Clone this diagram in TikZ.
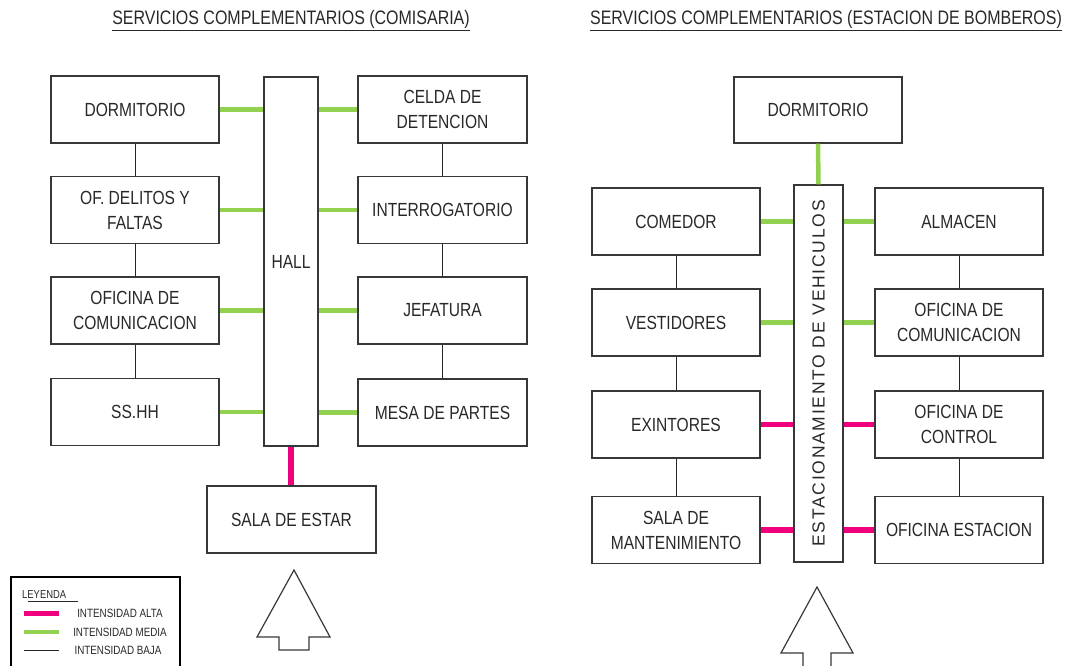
\documentclass[tikz,border=0pt]{standalone}
\usepackage{fontspec}
\setmainfont{Liberation Sans}[FakeStretch=0.82]
\newfontfamily\titlef{Liberation Sans}[FakeStretch=0.82]
\newfontfamily\estf{Liberation Sans}[LetterSpace=10]
\definecolor{mgreen}{RGB}{146,208,80}
\definecolor{mpink}{RGB}{240,0,125}
\definecolor{tcol}{RGB}{40,40,40}
\definecolor{bcol}{RGB}{55,55,55}
\begin{document}
\begin{tikzpicture}[x=1pt,y=-1pt,
  box/.style={draw=bcol, line width=1.2pt, align=center, inner sep=0pt, text=tcol,
    minimum width=168, minimum height=67, font=\fontsize{19}{25}\selectfont},
  lo/.style={draw=black!85, line width=0.8pt},
  mid/.style={draw=mgreen, line width=4.5pt},
  hi/.style={draw=mpink, line width=5.5pt},
  ttl/.style={anchor=base, text=tcol, inner sep=0pt, font=\titlef\fontsize{19.5}{21}\selectfont},
  leg/.style={text=tcol, inner sep=0pt, font=\fontsize{12}{13}\selectfont},
  arrowshape/.style={draw=bcol, line width=1.2pt, line join=miter}]
\useasboundingbox (0,0) rectangle (1068,666);

% titles
\node[ttl] (t1) at (291,25) {\underline{SERVICIOS COMPLEMENTARIOS (COMISARIA)}};
\node[ttl] (t2) at (826,25) {\underline{SERVICIOS COMPLEMENTARIOS (ESTACION DE BOMBEROS)}};

% ---------- left diagram ----------
\node[box] (ldorm) at (135,109.5) {DORMITORIO};
\node[box] (ldel)  at (135,210) {OF. DELITOS Y\\FALTAS};
\node[box] (lofi)  at (135,310.5) {OFICINA DE\\COMUNICACION};
\node[box] (lss)   at (135,412) {SS.HH};
\node[box, minimum width=54, minimum height=369] (hall) at (291,261.5) {HALL};
\node[box, minimum width=169] (lcel) at (442.5,109.5) {CELDA DE\\DETENCION};
\node[box, minimum width=169] (lint) at (442.5,210) {INTERROGATORIO};
\node[box, minimum width=169] (ljef) at (442.5,310.5) {JEFATURA};
\node[box, minimum width=169] (lmes) at (442.5,412.5) {MESA DE PARTES};
\node[box, minimum width=169] (lsala) at (291.5,519.5) {SALA DE ESTAR};

\draw[lo] (ldorm) -- (ldel);
\draw[lo] (ldel) -- (lofi);
\draw[lo] (lofi) -- (lss);
\draw[lo] (lcel) -- (lint);
\draw[lo] (lint) -- (ljef);
\draw[lo] (ljef) -- (lmes);
\foreach \n in {ldorm,ldel,lofi,lss}{\draw[mid] (\n.east) -- (\n.east -| hall.west);}
\foreach \n in {lcel,lint,ljef,lmes}{\draw[mid] (\n.west) -- (\n.west -| hall.east);}
\draw[hi] (hall.south) -- (lsala.north -| hall.south);

\draw[arrowshape] (294,570) -- (330,637) -- (309,637) -- (309,650) -- (279,650) -- (279,637) -- (257,637) -- cycle;

% ---------- right diagram ----------
\node[box, minimum height=66] (rdorm) at (818,110) {DORMITORIO};
\node[box, minimum width=49, minimum height=377] (est) at (818.5,373.5) {};
\node[text=tcol, inner sep=0pt, rotate=90, font=\estf\fontsize{17.5}{18}\selectfont] (estt) at (est.center) {ESTACIONAMIENTO DE VEHICULOS};
\node[box] (rcom) at (676,221.5) {COMEDOR};
\node[box] (rves) at (676,322.5) {VESTIDORES};
\node[box] (rexi) at (676,424.5) {EXINTORES};
\node[box] (rsal) at (676,530) {SALA DE\\MANTENIMIENTO};
\node[box] (ralm) at (959,221.5) {ALMACEN};
\node[box] (rofc) at (959,322.5) {OFICINA DE\\COMUNICACION};
\node[box] (rctl) at (959,424.5) {OFICINA DE\\CONTROL};
\node[box] (rest) at (959,530) {OFICINA ESTACION};

\draw[mid] (rdorm.south) -- (est.north);
\draw[lo] (rcom) -- (rves);
\draw[lo] (rves) -- (rexi);
\draw[lo] (rexi) -- (rsal);
\draw[lo] (ralm) -- (rofc);
\draw[lo] (rofc) -- (rctl);
\draw[lo] (rctl) -- (rest);
\draw[mid] (rcom.east) -- (rcom.east -| est.west);
\draw[mid] (rves.east) -- (rves.east -| est.west);
\draw[hi] (rexi.east) -- (rexi.east -| est.west);
\draw[hi] (rsal.east) -- (rsal.east -| est.west);
\draw[mid] (ralm.west) -- (ralm.west -| est.east);
\draw[mid] (rofc.west) -- (rofc.west -| est.east);
\draw[hi] (rctl.west) -- (rctl.west -| est.east);
\draw[hi] (rest.west) -- (rest.west -| est.east);

\draw[arrowshape] (817,587) -- (853,653) -- (831,653) -- (831,670) -- (803,670) -- (803,653) -- (781,653) -- cycle;

% ---------- legend ----------
\draw[draw=black, line width=1.2pt] (11,577) rectangle (180,672);
\node[leg, anchor=base west, font=\fontsize{11.5}{12}\selectfont] (leyenda) at (22,598) {LEYENDA};
\draw[line width=0.6pt, tcol] (28,601) -- (78,601);
\draw[hi, line width=5pt] (24,613) -- (59,613);
\draw[mid, line width=4.5pt] (24,632) -- (59,632);
\draw[lo, line width=0.7pt] (24,650) -- (59,650);
\node[leg] (la) at (120,613) {INTENSIDAD ALTA};
\node[leg] (lm) at (120,632) {INTENSIDAD MEDIA};
\node[leg] (lb) at (118,650) {INTENSIDAD BAJA};
\end{tikzpicture}
\end{document}
